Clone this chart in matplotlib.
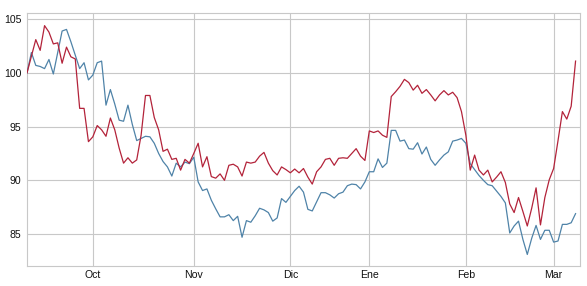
import numpy as np
import matplotlib
matplotlib.use('Agg')
import matplotlib.pyplot as plt

# --- datos (índice de sesión, valores normalizados a 100) ---
serie_roja = [
    100.0, 101.55, 103.1, 102.1, 104.4, 103.8, 102.7, 102.8, 100.9, 102.4,
    101.5, 101.3, 96.7, 96.7, 93.6, 94.05, 95.1, 94.7, 94.1, 95.8,
    94.7, 93.0, 91.6, 92.1, 91.6, 91.9, 94.2, 97.9, 97.9, 95.85,
    94.7, 92.7, 92.9, 91.95, 92.05, 90.95, 91.95, 91.6, 92.5, 93.45,
    91.25, 92.2, 90.35, 90.2, 90.6, 90.0, 91.4, 91.5, 91.25, 90.4,
    91.7, 91.6, 91.7, 92.25, 92.6, 91.6, 90.9, 90.5, 91.25, 91.0,
    90.7, 91.05, 90.7, 91.1, 90.3, 89.65, 90.8, 91.25, 91.95, 92.05,
    91.4, 92.05, 92.1, 92.05, 92.5, 92.95, 92.25, 91.85, 94.6, 94.45,
    94.6, 94.2, 94.0, 97.8, 98.25, 98.75, 99.4, 99.1, 98.4, 98.85,
    98.1, 98.45, 97.95, 97.4, 97.95, 98.35, 97.95, 98.2, 97.7, 96.4,
    94.2, 90.95, 92.35, 90.95, 90.5, 90.95, 89.85, 90.3, 90.8, 89.8,
    87.8, 87.0, 88.4, 87.1, 85.75, 87.4, 89.3, 85.85, 88.4, 90.05,
    91.1, 93.7, 96.4, 95.7, 96.9, 101.1,
]
serie_azul = [
    100.0, 101.9, 100.7, 100.6, 100.4, 101.25, 99.9, 101.9, 103.9, 104.05,
    102.9, 101.65, 100.4, 100.95, 99.35, 99.8, 100.95, 101.1, 97.0, 98.45,
    97.1, 95.6, 95.5, 97.0, 95.2, 93.7, 93.9, 94.1, 94.05, 93.45,
    92.5, 91.75, 91.25, 90.4, 91.6, 91.25, 91.7, 91.55, 92.15, 89.85,
    89.05, 89.2, 88.15, 87.35, 86.6, 86.6, 86.8, 86.25, 86.65, 84.7,
    86.25, 86.1, 86.7, 87.4, 87.25, 87.0, 86.2, 86.5, 88.3, 87.95,
    88.5, 89.05, 89.45, 88.9, 87.3, 87.15, 88.0, 88.85, 88.85, 88.65,
    88.35, 88.75, 88.9, 89.5, 89.65, 89.6, 89.2, 89.85, 90.8, 90.8,
    92.0, 91.2, 91.6, 94.65, 94.65, 93.65, 93.75, 92.95, 92.9, 93.5,
    92.45, 93.1, 91.95, 91.4, 91.9, 92.35, 92.65, 93.65, 93.75, 93.9,
    93.45, 91.55, 91.0, 90.45, 90.0, 89.6, 89.5, 89.0, 88.5, 87.9,
    85.1, 85.75, 86.2, 84.5, 83.1, 84.6, 85.8, 84.5, 85.35, 85.35,
    84.25, 84.35, 85.9, 85.9, 86.05, 86.9,
]
# primera sesión de cada mes
meses_pos = [15, 38, 60, 78, 100, 120]
meses_txt = ['Oct', 'Nov', 'Dic', 'Ene', 'Feb', 'Mar']
y_ticks = [85, 90, 95, 100, 105]

plt.rcParams['font.family'] = ['Liberation Sans', 'DejaVu Sans']

x = np.arange(len(serie_roja))

fig = plt.figure(figsize=(5.87, 2.86), dpi=100)
ax = fig.add_axes([0.046, 0.069, 0.942, 0.8845])

ax.plot(x, serie_azul, color='#4f83a8', lw=0.9, zorder=3)
ax.plot(x, serie_roja, color='#b3233a', lw=0.9, zorder=4)

ax.set_xlim(0, len(serie_roja))
ax.set_ylim(82.0, 105.55)
ax.set_xticks(meses_pos)
ax.set_xticklabels(meses_txt)
ax.set_yticks(y_ticks)

ax.grid(True, color='#c8c8c8', lw=0.8)
ax.set_axisbelow(True)
for s in ax.spines.values():
    s.set_color('#c8c8c8')
    s.set_linewidth(0.8)
ax.tick_params(axis='both', length=0, labelsize=7.6, colors='#111111')
ax.tick_params(axis='y', pad=4.0)
ax.tick_params(axis='x', pad=2.5)

fig.savefig('out.png', dpi=100)
